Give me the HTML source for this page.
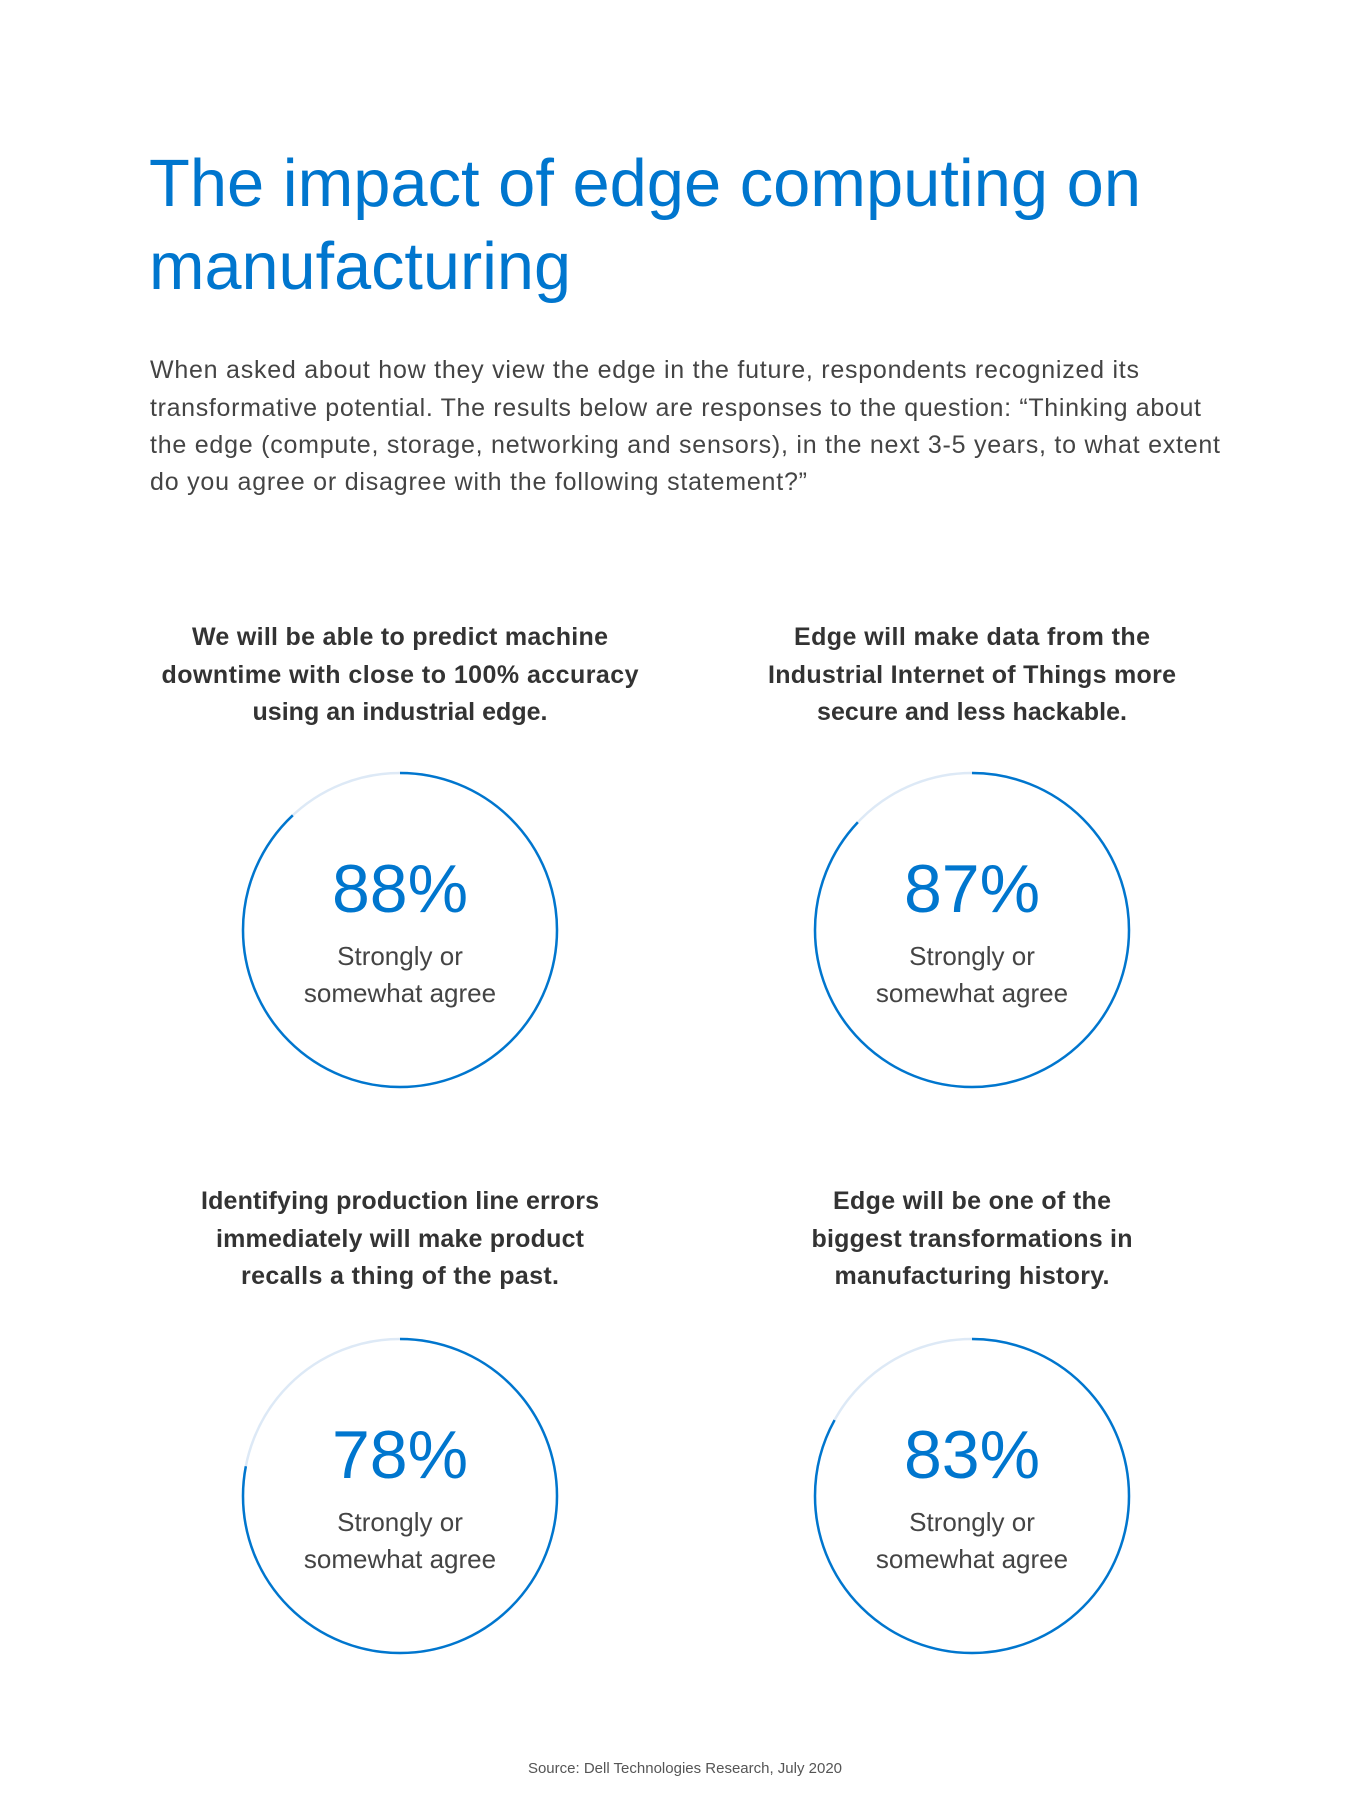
<!DOCTYPE html>
<html><head><meta charset="utf-8"><style>
html,body{margin:0;padding:0;background:#fff;}
svg{display:block;}
</style></head><body>
<svg width="1363" height="1797" viewBox="0 0 1363 1797" xmlns="http://www.w3.org/2000/svg" font-family="Liberation Sans, sans-serif">
<g fill="#0076ce" font-size="67">
<text x="149" y="206" textLength="992" lengthAdjust="spacingAndGlyphs">The impact of edge computing on</text>
<text x="149" y="289" textLength="422" lengthAdjust="spacingAndGlyphs">manufacturing</text>
</g>
<g fill="#444" font-size="25">
<text x="150" y="378" textLength="989">When asked about how they view the edge in the future, respondents recognized its</text>
<text x="150" y="416" textLength="1051">transformative potential. The results below are responses to the question: “Thinking about</text>
<text x="150" y="453" textLength="1070">the edge (compute, storage, networking and sensors), in the next 3-5 years, to what extent</text>
<text x="150" y="490" textLength="657">do you agree or disagree with the following statement?”</text>
</g>
<g fill="#333" font-size="25" font-weight="bold" text-anchor="middle">
<text x="400" y="645" textLength="416">We will be able to predict machine</text>
<text x="400" y="683" textLength="477">downtime with close to 100% accuracy</text>
<text x="400" y="720" textLength="295">using an industrial edge.</text>
<text x="972" y="645" textLength="356">Edge will make data from the</text>
<text x="972" y="683" textLength="408">Industrial Internet of Things more</text>
<text x="972" y="720" textLength="310">secure and less hackable.</text>
<text x="400" y="1209" textLength="398">Identifying production line errors</text>
<text x="400" y="1247" textLength="368">immediately will make product</text>
<text x="400" y="1284" textLength="318">recalls a thing of the past.</text>
<text x="972" y="1209" textLength="278">Edge will be one of the</text>
<text x="972" y="1247" textLength="321">biggest transformations in</text>
<text x="972" y="1284" textLength="275">manufacturing history.</text>
</g>
<g fill="none" stroke-width="2.5">
<circle cx="400" cy="930" r="157" stroke="#dde9f6"/>
<circle cx="400" cy="930" r="157" stroke="#0076ce" stroke-dasharray="868.1 2000" transform="rotate(-90 400 930)"/>
<circle cx="972" cy="930" r="157" stroke="#dde9f6"/>
<circle cx="972" cy="930" r="157" stroke="#0076ce" stroke-dasharray="858.3 2000" transform="rotate(-90 972 930)"/>
<circle cx="400" cy="1496" r="157" stroke="#dde9f6"/>
<circle cx="400" cy="1496" r="157" stroke="#0076ce" stroke-dasharray="769.5 2000" transform="rotate(-90 400 1496)"/>
<circle cx="972" cy="1496" r="157" stroke="#dde9f6"/>
<circle cx="972" cy="1496" r="157" stroke="#0076ce" stroke-dasharray="818.8 2000" transform="rotate(-90 972 1496)"/>
</g>
<g fill="#0076ce" font-size="68" text-anchor="middle">
<text x="400" y="912">88%</text>
<text x="972" y="912">87%</text>
<text x="400" y="1478">78%</text>
<text x="972" y="1478">83%</text>
</g>
<g fill="#444" font-size="26" text-anchor="middle">
<text x="400" y="965">Strongly or</text>
<text x="400" y="1002">somewhat agree</text>
<text x="972" y="965">Strongly or</text>
<text x="972" y="1002">somewhat agree</text>
<text x="400" y="1531">Strongly or</text>
<text x="400" y="1568">somewhat agree</text>
<text x="972" y="1531">Strongly or</text>
<text x="972" y="1568">somewhat agree</text>
</g>
<text x="685" y="1773" fill="#555" font-size="15" text-anchor="middle">Source: Dell Technologies Research, July 2020</text>
</svg>
</body></html>
